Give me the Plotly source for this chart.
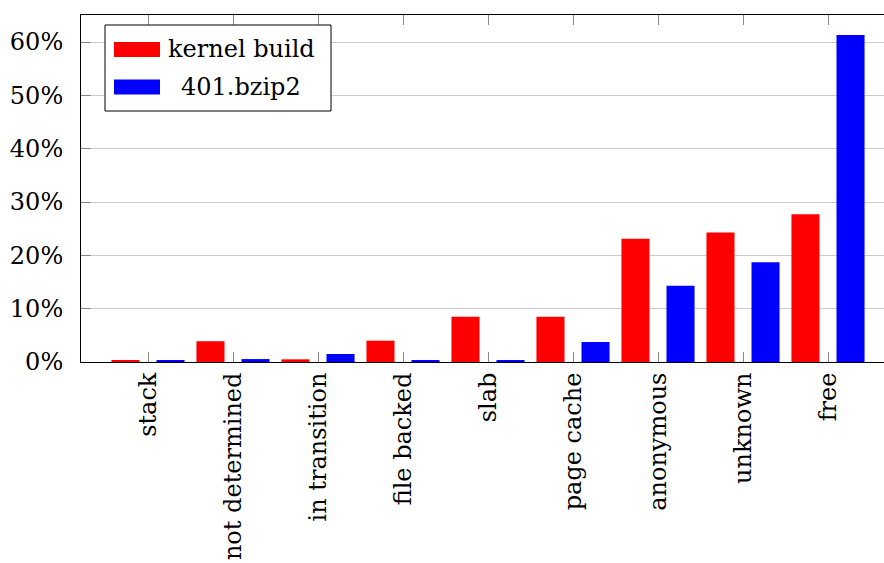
import plotly.graph_objects as go

categories = ["stack", "not determined", "in transition", "file backed", "slab",
              "page cache", "anonymous", "unknown", "free"]
kernel_build = [0.3, 3.9, 0.5, 4.0, 8.5, 8.5, 23.1, 24.3, 27.7]
bzip2 = [0.2, 0.55, 1.5, 0.35, 0.2, 3.75, 14.3, 18.7, 61.3]
series_names = ["kernel build", "401.bzip2"]
series_colors = ["#ff0000", "#0000ff"]
y_ticks = [0, 10, 20, 30, 40, 50, 60]
y_tick_labels = ["0%", "10%", "20%", "30%", "40%", "50%", "60%"]

W, H = 884, 563
L, T, B, R = 81, 15, 201, 0
PW, PH = W - L - R, H - T - B
FONT = "DejaVu Serif"
FS = 24


def px(x):
    return (x - L) / PW


def py(y):
    return (H - B - y) / PH


x_idx = list(range(len(categories)))
fig = go.Figure()
bw = 0.33
for vals, name, col, off in [(kernel_build, series_names[0], series_colors[0], -0.265),
                             (bzip2, series_names[1], series_colors[1], 0.265)]:
    fig.add_trace(go.Bar(x=x_idx, y=vals, name=name, marker=dict(color=col, line=dict(width=0)),
                         width=bw, offset=off - bw / 2, showlegend=False))

# manual legend
shapes = [dict(type="rect", xref="paper", yref="paper", x0=px(105), x1=px(331), y0=py(111), y1=py(25),
               line=dict(color="black", width=1), fillcolor="white", layer="above")]
annotations = []
for i, (name, col) in enumerate(zip(series_names, series_colors)):
    yc = 49.5 + i * 37.5
    shapes.append(dict(type="rect", xref="paper", yref="paper", x0=px(114), x1=px(160),
                       y0=py(yc + 7.5), y1=py(yc - 7.5), line=dict(width=0), fillcolor=col, layer="above"))
    annotations.append(dict(xref="paper", yref="paper", x=px(241), y=py(yc), text=name, showarrow=False,
                            xanchor="center", yanchor="middle", font=dict(family=FONT, size=FS, color="black")))

fig.update_layout(
    width=W, height=H, margin=dict(l=L, r=R, t=T, b=B, pad=0, autoexpand=False),
    paper_bgcolor="white", plot_bgcolor="white", barmode="overlay",
    shapes=shapes, annotations=annotations,
    font=dict(family=FONT, size=FS, color="black"),
)
fig.update_xaxes(range=[-(148 - L) / 85, (W - R - 148) / 85], tickvals=x_idx, ticktext=categories,
                 tickangle=-90, ticks="inside", ticklen=10, tickcolor="#888888", tickwidth=1,
                 showline=True, linecolor="black", linewidth=1, mirror="allticks", automargin=False,
                 showgrid=False, zeroline=False, tickfont=dict(family=FONT, size=FS, color="black"))
fig.update_yaxes(range=[0, (H - B - T) / 5.333], tickvals=y_ticks, ticktext=y_tick_labels,
                 ticks="inside", ticklen=10, tickcolor="#888888", tickwidth=1, automargin=False,
                 showline=True, linecolor="black", linewidth=1,
                 showgrid=True, gridcolor="#cccccc", gridwidth=1, zeroline=False,
                 tickfont=dict(family=FONT, size=FS, color="black"), ticklabelstandoff=12)

fig.write_html("out.html")
